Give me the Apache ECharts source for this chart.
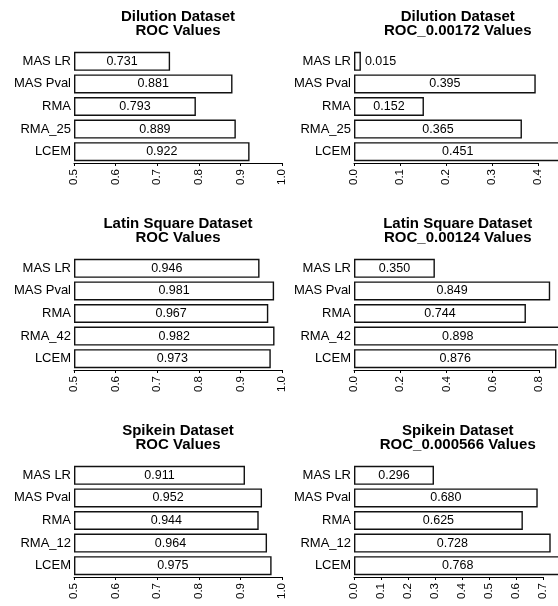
<!DOCTYPE html>
<html>
<head>
<meta charset="utf-8">
<script src="https://cdn.jsdelivr.net/npm/echarts@6/dist/echarts.min.js"></script>
<style>
  html, body { margin: 0; padding: 0; background: #fff; }
  #chart { width: 558px; height: 606px; }
</style>
</head>
<body>
<div id="chart"></div>
<script>
// Methods compared in each dataset (top to bottom)
const methodsDilution = ['MAS LR', 'MAS Pval', 'RMA', 'RMA_25', 'LCEM'];
const methodsLatin    = ['MAS LR', 'MAS Pval', 'RMA', 'RMA_42', 'LCEM'];
const methodsSpike    = ['MAS LR', 'MAS Pval', 'RMA', 'RMA_12', 'LCEM'];

// Full ROC area per method
const dilutionRoc = [0.731, 0.881, 0.793, 0.889, 0.922];
const latinRoc    = [0.946, 0.981, 0.967, 0.982, 0.973];
const spikeRoc    = [0.911, 0.952, 0.944, 0.964, 0.975];

// Partial ROC area (up to the dataset's false-positive cutoff)
const dilutionRocP = [0.015, 0.395, 0.152, 0.365, 0.451];
const latinRocP    = [0.350, 0.849, 0.744, 0.898, 0.876];
const spikeRocP    = [0.296, 0.680, 0.625, 0.728, 0.768];

// Panel titles
const titlesLeft  = ['Dilution Dataset\nROC Values', 'Latin Square Dataset\nROC Values', 'Spikein Dataset\nROC Values'];
const titlesRight = ['Dilution Dataset\nROC_0.00172 Values', 'Latin Square Dataset\nROC_0.00124 Values', 'Spikein Dataset\nROC_0.000566 Values'];

// Axis tick settings: [min, last tick, interval]
const ticksLeft  = [[0.5, 1.0, 0.1], [0.5, 1.0, 0.1], [0.5, 1.0, 0.1]];
const ticksRight = [[0, 0.4, 0.1], [0, 0.8, 0.2], [0, 0.7, 0.1]];

const FONT = '"Liberation Sans", Arial, Helvetica, sans-serif';

const panels = [
  { cats: methodsDilution, vals: dilutionRoc,  title: titlesLeft[0],  ticks: ticksLeft[0],  col: 0, row: 0 },
  { cats: methodsDilution, vals: dilutionRocP, title: titlesRight[0], ticks: ticksRight[0], col: 1, row: 0 },
  { cats: methodsLatin,    vals: latinRoc,     title: titlesLeft[1],  ticks: ticksLeft[1],  col: 0, row: 1 },
  { cats: methodsLatin,    vals: latinRocP,    title: titlesRight[1], ticks: ticksRight[1], col: 1, row: 1 },
  { cats: methodsSpike,    vals: spikeRoc,     title: titlesLeft[2],  ticks: ticksLeft[2],  col: 0, row: 2 },
  { cats: methodsSpike,    vals: spikeRocP,    title: titlesRight[2], ticks: ticksRight[2], col: 1, row: 2 }
];

// Layout of the plotting regions
const rowStep = 207;
const gridTop0 = 50;
const gridHeight = 113;
const colLeft = [74, 354];
const plotWidth = [208, 207.5];

const titles = [], grids = [], xAxes = [], yAxes = [], series = [];

panels.forEach((p, i) => {
  const [tMin, tMax, tInt] = p.ticks;
  const dataMax = Math.max.apply(null, p.vals);
  // Left panels span the fixed 0.5–1.0 range; right panels span 0..max(data),
  // with the axis line drawn only up to the last labelled tick.
  const width = p.col === 0 ? plotWidth[0] : plotWidth[1] * tMax / dataMax;
  const top = gridTop0 + p.row * rowStep;
  const left = colLeft[p.col];
  const centerX = left + plotWidth[p.col] / 2;

  titles.push({
    text: p.title,
    left: centerX,
    top: 9.5 + p.row * rowStep,
    textAlign: 'center',
    padding: 0,
    textStyle: { fontFamily: FONT, fontSize: 15, fontWeight: 'bold', color: '#000', lineHeight: 14.5 }
  });

  grids.push({ left: left, top: top, width: width, height: gridHeight, containLabel: false });

  xAxes.push({
    type: 'value',
    gridIndex: i,
    min: tMin,
    max: tMax,
    interval: tInt,
    startValue: tMin,
    splitLine: { show: false },
    axisLine: { show: true, lineStyle: { color: '#000', width: 1 } },
    axisTick: { show: true, length: 3, lineStyle: { color: '#000', width: 1 } },
    axisLabel: {
      rotate: 90,
      margin: 6,
      fontFamily: FONT,
      fontSize: 11.5,
      color: '#000',
      formatter: v => v.toFixed(1)
    }
  });

  yAxes.push({
    type: 'category',
    gridIndex: i,
    data: p.cats,
    inverse: true,
    axisLine: { show: false },
    axisTick: { show: false },
    splitLine: { show: false },
    axisLabel: { margin: 3, fontFamily: FONT, fontSize: 13, color: '#000' }
  });

  const span = p.col === 0 ? 1.0 - tMin : dataMax;
  series.push({
    type: 'bar',
    xAxisIndex: i,
    yAxisIndex: i,
    clip: p.col === 0,
    barCategoryGap: '16%',
    silent: true,
    animation: false,
    itemStyle: { color: '#fff', borderColor: '#111', borderWidth: 1.4 },
    data: p.vals.map(v => {
      // Bars too narrow to hold their value get the label beside them
      const narrow = (v - (p.col === 0 ? tMin : 0)) / span < 0.12;
      return {
        value: v,
        label: narrow ? { position: 'right', distance: 4 } : { position: 'inside' }
      };
    }),
    label: {
      show: true,
      fontFamily: FONT,
      fontSize: 12.5,
      color: '#000',
      formatter: d => d.value.toFixed(3)
    }
  });
});

const chart = echarts.init(document.getElementById('chart'), null, { renderer: 'canvas' });
chart.setOption({
  backgroundColor: '#fff',
  animation: false,
  title: titles,
  grid: grids,
  xAxis: xAxes,
  yAxis: yAxes,
  series: series
});
</script>
</body>
</html>
